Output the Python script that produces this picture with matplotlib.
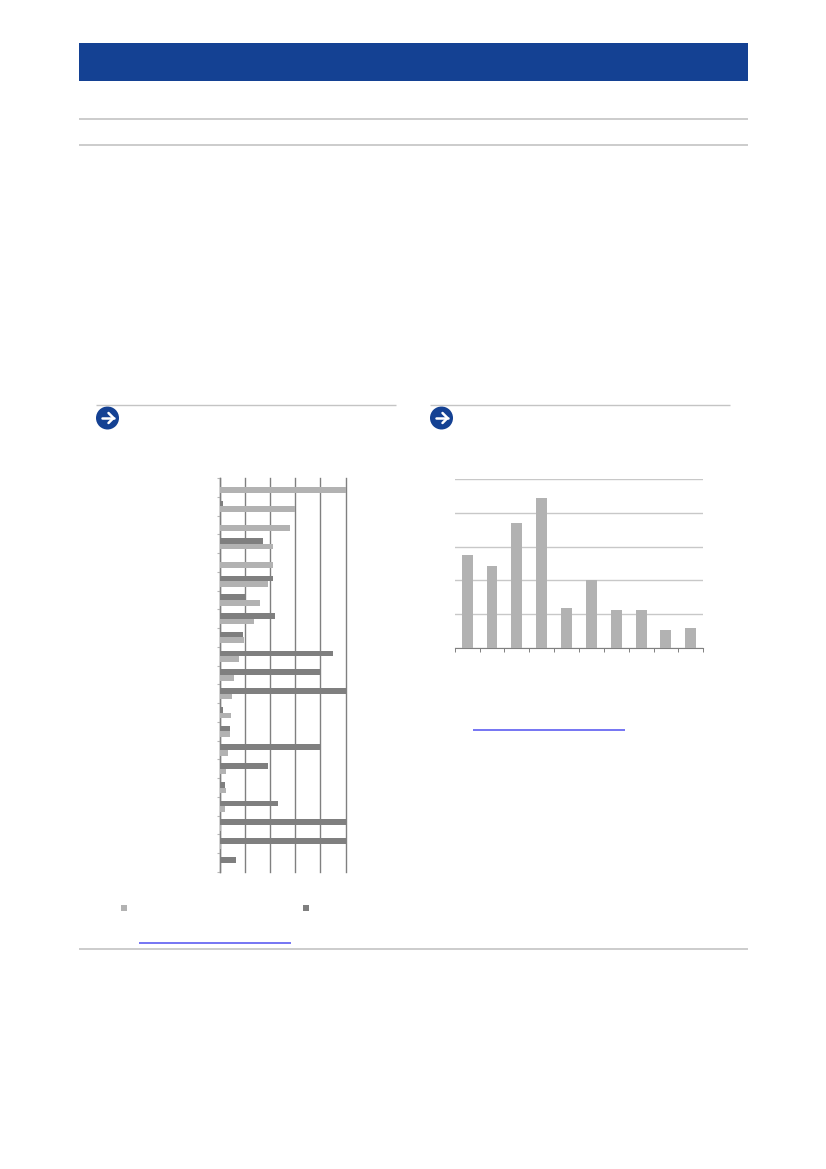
import matplotlib
matplotlib.use('Agg')
import matplotlib.pyplot as plt
from matplotlib.patches import Circle, Rectangle

W, H = 826, 1169

# left chart, top to bottom, 21 categories
LIGHT = [100, 60, 56, 42, 42, 38, 32, 27, 19, 15, 11, 9.5, 8.5, 8, 6, 4.5, 4.5, 4, 1, 0.5, 0]
DARK = [0, 2, 1, 34, 1, 42, 20, 44, 18, 90, 80, 100, 2, 8, 80, 38, 4, 46, 100, 100, 12.5]

# right chart, 10 categories
COLUMNS = [54.7, 48.6, 74, 88.8, 24, 40, 22.6, 22.6, 10.8, 12]

NAVY = '#144193'
RULE = '#c4c4c4'
BAR_LIGHT = '#b2b2b2'
BAR_DARK = '#7f7f7f'
LINK = '#5050f0'


def px_axes(fig, x0, y0, x1, y1):
    # pixel box measured from the top left of the page
    return fig.add_axes([x0 / W, 1 - y1 / H, (x1 - x0) / W, (y1 - y0) / H])


def arrow(page, x, y):
    page.add_patch(Circle((x, y), 11.5, color=NAVY, lw=0))
    page.plot([x - 6, x + 6], [y, y], color='white', lw=1.8, solid_capstyle='round')
    page.plot([x + 1, x + 6, x + 1], [y - 5, y, y + 5], color='white', lw=1.8,
              solid_capstyle='round', solid_joinstyle='round')


def make_page(fig):
    page = fig.add_axes([0, 0, 1, 1])
    page.set_xlim(0, W)
    page.set_ylim(H, 0)
    page.axis('off')
    page.add_patch(Rectangle((79, 43), 669, 37.5, color=NAVY, lw=0))
    for y in [119, 145, 949]:
        page.plot([79, 748], [y, y], color=RULE, lw=1.2, solid_capstyle='butt')
    page.plot([96, 396], [405, 405], color=RULE, lw=1, solid_capstyle='butt')
    page.plot([430, 730], [405, 405], color=RULE, lw=1, solid_capstyle='butt')
    arrow(page, 107.5, 418)
    arrow(page, 441.5, 418)
    page.add_patch(Rectangle((121, 905), 6, 6, color=BAR_LIGHT, lw=0))
    page.add_patch(Rectangle((303, 905), 6, 6, color=BAR_DARK, lw=0))
    page.plot([139, 291], [943, 943], color=LINK, lw=1.1, solid_capstyle='butt')
    page.plot([473, 625], [729.7, 729.7], color=LINK, lw=1.1, solid_capstyle='butt')


def make_left(fig):
    ax = px_axes(fig, 220, 478, 345.5, 872)
    pos = list(range(len(LIGHT)))
    h = 0.3
    ax.barh([p - h / 2 for p in pos], DARK, height=h, color=BAR_DARK, zorder=3)
    ax.barh([p + h / 2 for p in pos], LIGHT, height=h, color=BAR_LIGHT, zorder=3)
    ax.set_xlim(0, 100)
    ax.set_ylim(len(LIGHT) - 0.5, -0.5)
    ax.set_xticks(range(0, 101, 20))
    ax.set_yticks([p - 0.5 for p in pos] + [len(pos) - 0.5])
    ax.grid(axis='x', color='#808080', lw=1, zorder=1, clip_on=False)
    ax.tick_params(axis='x', length=0, labelbottom=False)
    ax.tick_params(axis='y', length=2, width=0.8, color='#b8b8b8', labelleft=False)
    for side in ['top', 'right', 'bottom']:
        ax.spines[side].set_visible(False)
    ax.spines['left'].set_color('#808080')
    ax.spines['left'].set_linewidth(1)
    ax.patch.set_alpha(0)


def make_right(fig):
    ax = px_axes(fig, 454.7, 478.7, 703.2, 648.2)
    pos = list(range(len(COLUMNS)))
    ax.bar(pos, COLUMNS, width=0.44, color=BAR_LIGHT, zorder=3)
    ax.set_xlim(-0.5, len(COLUMNS) - 0.5)
    ax.set_ylim(0, 100)
    ax.set_yticks(range(0, 101, 20))
    ax.set_xticks([p - 0.5 for p in pos] + [len(pos) - 0.5])
    ax.grid(axis='y', color='#c8c8c8', lw=1, zorder=1)
    ax.tick_params(axis='y', length=0, labelleft=False)
    ax.tick_params(axis='x', length=3, width=0.7, color='#808080', labelbottom=False)
    for side in ['top', 'right', 'left']:
        ax.spines[side].set_visible(False)
    ax.spines['bottom'].set_color('#808080')
    ax.spines['bottom'].set_linewidth(0.8)
    ax.patch.set_alpha(0)


fig = plt.figure(figsize=(W / 100, H / 100), dpi=100)
make_page(fig)
make_left(fig)
make_right(fig)
fig.savefig('out.png', dpi=100)
